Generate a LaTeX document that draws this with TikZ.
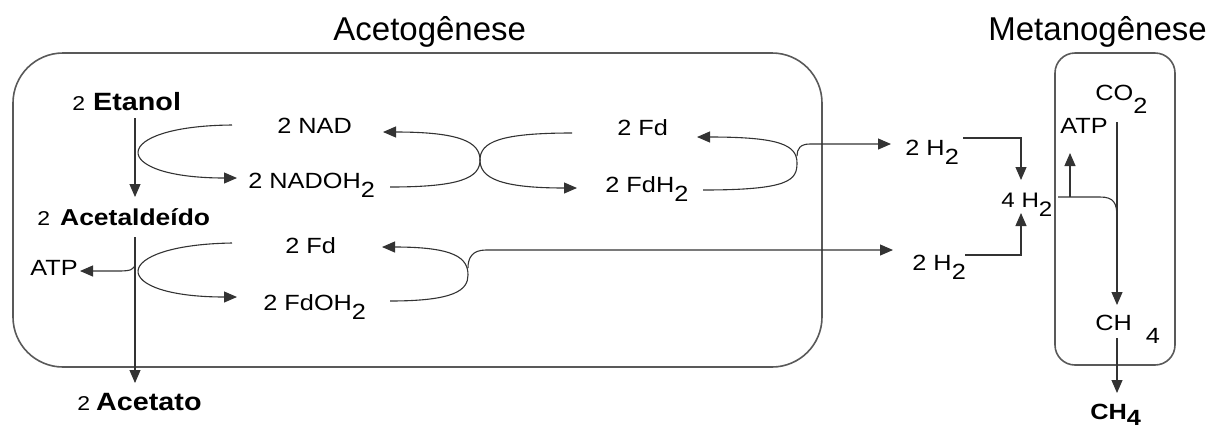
\documentclass[tikz,border=0pt]{standalone}
\usepackage{fontspec}
\setmainfont{Liberation Sans}
\newfontfamily\lblfont[FakeStretch=1.15]{Liberation Sans}
\usetikzlibrary{arrows.meta}
\tikzset{
  lbl/.style={font=\lblfont\fontsize{11}{13}\selectfont, inner sep=0pt, anchor=base west},
  bold/.style={font=\lblfont\bfseries\fontsize{12.5}{15}\selectfont, inner sep=0pt, anchor=base west},
  ttl/.style={font=\fontsize{16.5}{20}\selectfont, inner sep=0pt, anchor=base west},
  conn/.style={line width=0.55pt, draw=black!80},
  arr/.style={conn, -{Triangle[length=6.5pt,width=5.5pt]}},
  stage/.style={draw=black!65, line width=0.8pt},
}
\newcommand{\lowidx}[2][4.5pt]{\raisebox{-#1}{#2}}
\newcommand{\coef}[1]{{\mdseries\fontsize{10}{12}\selectfont #1}}
\begin{document}
\begin{tikzpicture}[x=0.5pt,y=-0.5pt]
\useasboundingbox (0,0) rectangle (1227,430);

% stage frames
\draw[stage, rounded corners=25pt] (13,53) rectangle (822,367);
\draw[stage, rounded corners=10pt] (1055,53) rectangle (1175,365);

% titles
\node[ttl] (tA) at (333,40) {Acetogênese};
\node[ttl] (tM) at (988,40) {Metanogênese};

% main substrates
\node[bold] (etanol) at (72,110) {\coef{2}\hspace{4pt}Etanol};
\node[bold, font=\lblfont\bfseries\fontsize{11.5}{14}\selectfont] (ald) at (37,225) {\coef{2}\hspace{5pt}Acetaldeído};
\node[bold] (acetato) at (77,410) {\coef{2}\hspace{3pt}Acetato};

% cofactors
\node[lbl] (atpL) at (30,275) {ATP};
\node[lbl] (nad) at (277,133) {2 NAD};
\node[lbl] (nadoh) at (248,188) {2 NADOH\lowidx{2}};
\node[lbl] (fd1) at (617,135) {2 Fd};
\node[lbl] (fdh) at (605,192) {2 FdH\lowidx{2}};
\node[lbl] (fd2) at (285,253) {2 Fd};
\node[lbl] (fdoh) at (263,310) {2 FdOH\lowidx{2}};

% hydrogen and methanogenesis
\node[lbl] (hA) at (905,155) {2 H\lowidx{2}};
\node[lbl] (hB) at (912,270) {2 H\lowidx{2}};
\node[lbl, font=\lblfont\fontsize{10.5}{13}\selectfont] (h4) at (1001,207) {4 H\lowidx{2}};
\node[lbl] (atpR) at (1060,133) {ATP};
\node[lbl] (co2) at (1095,100) {CO\lowidx[6.5pt]{2}};
\node[lbl] (ch4) at (1095,330) {CH\hspace{7pt}\lowidx[6.5pt]{4}};
\node[bold, font=\lblfont\bfseries\fontsize{11}{13}\selectfont] (ch4out) at (1090,419) {CH\lowidx[3pt]{4}};

% connector end points
\coordinate (e1) at (135,118);  \coordinate (e2) at (135,197);
\coordinate (a1) at (135,237);  \coordinate (a2) at (135,383);
\coordinate (p1) at (135,263);  \coordinate (p2) at (80,271);
\coordinate (n1) at (232,125);  \coordinate (n2) at (237,178);
\coordinate (x1) at (390,187);  \coordinate (x2) at (383,132);
\coordinate (xc) at (480,160);
\coordinate (x3) at (572,133);  \coordinate (x4) at (577,188);
\coordinate (f1) at (703,190);  \coordinate (f2) at (697,137);
\coordinate (fr) at (797,163);
\coordinate (hAin) at (891,144);
\coordinate (g1) at (232,243);  \coordinate (g2) at (237,297);
\coordinate (l1) at (390,301);  \coordinate (l2) at (382,247);
\coordinate (lr) at (468,275);
\coordinate (hBin) at (893,250);
\coordinate (hAout) at (963,138); \coordinate (hBout) at (965,255);
\coordinate (h4top) at (1021,180); \coordinate (h4bot) at (1021,213);
\coordinate (h4out) at (1058,197);
\coordinate (atpRin) at (1070,153); \coordinate (atpRbr) at (1070,197);
\coordinate (co2out) at (1117,122); \coordinate (ch4in) at (1117,305);
\coordinate (ch4out1) at (1117,338); \coordinate (ch4out2) at (1117,393);

% acetogenic chain
\draw[arr] (e1) -- (e2);
\draw[arr] (a1) -- (a2);
\draw[arr] (p1) .. controls (135,270) and (130,271) .. (118,271) -- (p2);

% NAD / NADOH2 cycle
\draw[arr] (n1) .. controls (108,126) and (108,178) .. (n2);
\draw[arr] (x1) .. controls (460,187) and (480,178) .. (xc)
               .. controls (480,142) and (460,132) .. (x2);
\draw[arr] (x3) .. controls (500,133) and (480,142) .. (xc)
               .. controls (480,178) and (500,188) .. (x4);

% ferredoxin cycle, upper
\draw[arr] (f1) .. controls (790,190) and (797,180) .. (fr)
               .. controls (797,145) and (780,137) .. (f2);
\draw[arr] (797,156) .. controls (797,149) and (800,144) .. (810,144) -- (hAin);

% ferredoxin cycle, lower
\draw[arr] (g1) .. controls (108,245) and (108,297) .. (g2);
\draw[arr] (l1) .. controls (455,301) and (468,290) .. (lr)
               .. controls (468,258) and (455,247) .. (l2);
\draw[arr] (468,268) .. controls (468,258) and (472,250) .. (486,250) -- (hBin);

% hydrogen pooling
\draw[arr] (hAout) -- (1021,138) -- (h4top);
\draw[arr] (hBout) -- (1021,255) -- (h4bot);

% methanogenesis
\draw[arr] (co2out) -- (ch4in);
\draw[conn] (h4out) -- (1100,197) .. controls (1114,197) and (1117,203) .. (1117,218);
\draw[arr] (atpRbr) -- (atpRin);
\draw[arr] (ch4out1) -- (ch4out2);
\end{tikzpicture}
\end{document}
